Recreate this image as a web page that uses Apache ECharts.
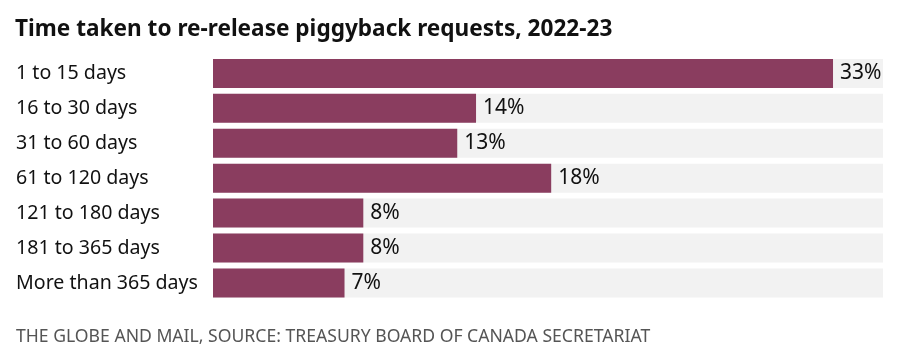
<!DOCTYPE html>
<html><head><meta charset="utf-8">
<script src="https://cdn.jsdelivr.net/npm/echarts@6/dist/echarts.min.js"></script>
<style>html,body{margin:0;padding:0;background:#fff}#c{width:900px;height:363px}</style>
</head><body><div id="c"></div>
<script>
var categories = ["1 to 15 days","16 to 30 days","31 to 60 days","61 to 120 days","121 to 180 days","181 to 365 days","More than 365 days"];
var values = [33,14,13,18,8,8,7];
var titleText = "Time taken to re-release piggyback requests, 2022-23";
var sourceText = "THE GLOBE AND MAIL, SOURCE: TREASURY BOARD OF CANADA SECRETARIAT";

var chart = echarts.init(document.getElementById('c'), null, {renderer:'canvas'});
chart.setOption({
  animation:false,
  backgroundColor:'#ffffff',
  title:[{text:titleText,left:15,top:18,padding:0,textStyle:{fontFamily:'Noto Sans',fontWeight:'bold',fontSize:22.6,color:'#111'}},
         {text:sourceText,left:16,top:328,padding:0,textStyle:{fontFamily:'Noto Sans',fontWeight:'normal',fontSize:17.6,color:'#555'}}],
  grid:{left:213,right:17,top:56,height:244.4,containLabel:false},
  xAxis:{type:'value',min:0,max:35.66,show:false},
  yAxis:{type:'category',data:categories,inverse:true,
    axisLine:{show:false},axisTick:{show:false},
    axisLabel:{align:'left',margin:197,fontFamily:'Noto Sans',fontSize:19.6,color:'#111'}},
  series:[{type:'bar',data:values,barWidth:29,
    itemStyle:{color:'#8a3d5f'},
    showBackground:true,backgroundStyle:{color:'#f2f2f2'},
    label:{show:true,position:'right',distance:7,formatter:'{c}%',fontFamily:'Noto Sans',fontSize:21,color:'#111'}}]
});
</script></body></html>
